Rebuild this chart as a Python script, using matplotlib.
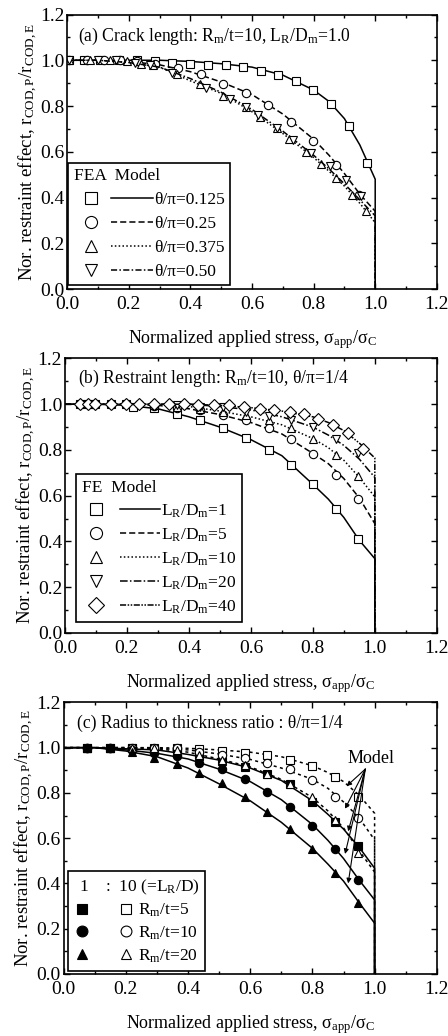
import numpy as np
import matplotlib
matplotlib.use("Agg")
import matplotlib.pyplot as plt
from matplotlib.lines import Line2D
from matplotlib.legend_handler import HandlerBase
from matplotlib.ticker import MultipleLocator, FormatStrFormatter

plt.rcParams["font.family"] = ["Liberation Serif", "DejaVu Serif"]
plt.rcParams["mathtext.fontset"] = "custom"
plt.rcParams["mathtext.rm"] = "Liberation Serif"
plt.rcParams["mathtext.it"] = "Liberation Serif:italic"
plt.rcParams["font.size"] = 12

# ---------------- (a) crack length ----------------
a_labels = ["θ/π=0.125", "θ/π=0.25", "θ/π=0.375", "θ/π=0.50"]
a_model_x = [0, 0.1, 0.2, 0.3, 0.4, 0.5, 0.6, 0.7, 0.8, 0.85, 0.9, 0.95, 1.0, 1.0]
a_model_125 = [1.0, 1.0, 1.0, 1.0, 0.995, 0.985, 0.97, 0.935, 0.87, 0.82, 0.745, 0.63, 0.48, 0.0]
a_model_25 = [1.0, 1.0, 0.995, 0.98, 0.95, 0.905, 0.85, 0.765, 0.655, 0.585, 0.505, 0.415, 0.34, 0.0]
a_model_375 = [1.0, 1.0, 0.99, 0.97, 0.91, 0.855, 0.775, 0.68, 0.575, 0.515, 0.45, 0.375, 0.29, 0.0]
a_model_50 = [1.0, 1.0, 0.99, 0.97, 0.92, 0.86, 0.785, 0.69, 0.585, 0.525, 0.46, 0.39, 0.32, 0.0]

a_fea_125_x = [0.005, 0.054, 0.108, 0.167, 0.226, 0.286, 0.34, 0.40, 0.458, 0.517, 0.571, 0.63,
               0.684, 0.744, 0.797, 0.857, 0.914, 0.973]
a_fea_125_y = [1.0, 1.0, 1.0, 1.0, 1.0, 0.995, 0.99, 0.985, 0.98, 0.978, 0.971, 0.953,
               0.935, 0.91, 0.872, 0.807, 0.712, 0.552]
a_fea_25_x = [0.005, 0.065, 0.12, 0.17, 0.226, 0.286, 0.361, 0.436, 0.506, 0.58, 0.652, 0.725,
              0.797, 0.873, 0.948]
a_fea_25_y = [1.0, 1.0, 1.0, 1.0, 0.995, 0.985, 0.967, 0.939, 0.898, 0.858, 0.804, 0.731,
              0.648, 0.542, 0.411]
a_fea_375_x = [0.005, 0.075, 0.14, 0.195, 0.24, 0.28, 0.356, 0.43, 0.506, 0.58, 0.625, 0.68,
               0.72, 0.776, 0.824, 0.873, 0.925, 0.97]
a_fea_375_y = [1.0, 1.0, 1.0, 0.995, 0.985, 0.978, 0.939, 0.898, 0.843, 0.794, 0.753, 0.702,
               0.654, 0.6, 0.545, 0.484, 0.411, 0.343]
a_fea_50_x = [0.005, 0.1, 0.16, 0.22, 0.27, 0.34, 0.45, 0.53, 0.58, 0.62, 0.68, 0.733,
              0.79, 0.853, 0.905, 0.955]
a_fea_50_y = [1.0, 1.0, 1.0, 0.99, 0.98, 0.945, 0.88, 0.83, 0.794, 0.76, 0.705, 0.651,
              0.596, 0.538, 0.477, 0.405]

# ---------------- (b) restraint length ----------------
b_labels = [r"L$_\mathrm{R}$/D$_\mathrm{m}$=1", r"L$_\mathrm{R}$/D$_\mathrm{m}$=5",
            r"L$_\mathrm{R}$/D$_\mathrm{m}$=10", r"L$_\mathrm{R}$/D$_\mathrm{m}$=20",
            r"L$_\mathrm{R}$/D$_\mathrm{m}$=40"]
b_model_x = [0, 0.1, 0.2, 0.3, 0.4, 0.5, 0.6, 0.7, 0.8, 0.85, 0.9, 0.95, 1.0, 1.0]
b_model_1 = [1.0, 1.0, 0.995, 0.98, 0.945, 0.9, 0.845, 0.775, 0.65, 0.585, 0.505, 0.405, 0.325, 0.0]
b_model_5 = [1.0, 1.0, 1.0, 0.995, 0.98, 0.955, 0.92, 0.87, 0.785, 0.74, 0.675, 0.59, 0.478, 0.0]
b_model_10 = [1.0, 1.0, 1.0, 1.0, 0.99, 0.97, 0.945, 0.91, 0.85, 0.81, 0.755, 0.68, 0.595, 0.0]
b_model_20 = [1.0, 1.0, 1.0, 1.0, 1.0, 0.99, 0.975, 0.945, 0.9, 0.865, 0.82, 0.76, 0.68, 0.0]
b_model_40 = [1.0, 1.0, 1.0, 1.0, 1.0, 0.995, 0.985, 0.97, 0.945, 0.92, 0.885, 0.83, 0.765, 0.0]

b_fe_1_x = [0.048, 0.073, 0.098, 0.148, 0.196, 0.218, 0.287, 0.362, 0.437, 0.51, 0.585, 0.657,
            0.73, 0.80, 0.875, 0.946]
b_fe_1_y = [1.0, 1.0, 1.0, 1.0, 1.0, 0.99, 0.984, 0.959, 0.93, 0.894, 0.854, 0.80,
            0.733, 0.65, 0.544, 0.413]
b_fe_5_x = [0.048, 0.073, 0.098, 0.148, 0.196, 0.24, 0.287, 0.362, 0.437, 0.51, 0.585, 0.657,
            0.73, 0.80, 0.875, 0.946]
b_fe_5_y = [1.0, 1.0, 1.0, 1.0, 1.0, 1.0, 0.991, 0.985, 0.974, 0.952, 0.93, 0.894,
            0.85, 0.784, 0.69, 0.587]
b_fe_10_x = [0.287, 0.362, 0.437, 0.51, 0.585, 0.657, 0.73, 0.80, 0.875, 0.946]
b_fe_10_y = [0.995, 0.99, 0.98, 0.966, 0.952, 0.933, 0.898, 0.848, 0.776, 0.687]
b_fe_20_x = [0.362, 0.437, 0.51, 0.585, 0.657, 0.73, 0.80, 0.875, 0.946]
b_fe_20_y = [0.995, 0.99, 0.99, 0.966, 0.95, 0.93, 0.90, 0.85, 0.787]
b_fe_40_x = [0.048, 0.073, 0.098, 0.148, 0.196, 0.24, 0.287, 0.335, 0.383, 0.43, 0.48, 0.53,
             0.578, 0.628, 0.673, 0.725, 0.77, 0.818, 0.866, 0.914, 0.962]
b_fe_40_y = [1.0, 1.0, 1.0, 1.0, 1.0, 1.0, 1.0, 1.0, 1.0, 0.998, 0.995, 0.995,
             0.99, 0.98, 0.974, 0.966, 0.956, 0.937, 0.911, 0.872, 0.803]

# ---------------- (c) radius to thickness ----------------
c_labels = [r"R$_\mathrm{m}$/t=5", r"R$_\mathrm{m}$/t=10", r"R$_\mathrm{m}$/t=20"]
c_model_x = [0, 0.1, 0.2, 0.3, 0.4, 0.5, 0.6, 0.7, 0.8, 0.85, 0.9, 0.95, 1.0, 1.0]
c_l1_5 = [1.0, 1.0, 0.995, 0.99, 0.97, 0.945, 0.91, 0.855, 0.765, 0.705, 0.64, 0.56, 0.467, 0.0]
c_l1_10 = [1.0, 1.0, 0.99, 0.975, 0.95, 0.905, 0.85, 0.77, 0.66, 0.59, 0.51, 0.415, 0.327, 0.0]
c_l1_20 = [1.0, 1.0, 0.985, 0.96, 0.91, 0.84, 0.765, 0.67, 0.555, 0.485, 0.41, 0.315, 0.224, 0.0]
c_l10_5 = [1.0, 1.0, 1.0, 1.0, 0.997, 0.99, 0.98, 0.96, 0.92, 0.89, 0.85, 0.79, 0.71, 0.0]
c_l10_10 = [1.0, 1.0, 1.0, 0.997, 0.99, 0.972, 0.948, 0.91, 0.86, 0.82, 0.76, 0.69, 0.592, 0.0]
c_l10_20 = [1.0, 1.0, 1.0, 0.995, 0.98, 0.95, 0.915, 0.86, 0.78, 0.72, 0.645, 0.545, 0.45, 0.0]

c_fe_x = [0.075, 0.148, 0.22, 0.29, 0.365, 0.434, 0.51, 0.584, 0.653, 0.728, 0.80, 0.872, 0.947]
c_fe_l1_5 = [1.0, 1.0, 0.997, 0.99, 0.975, 0.963, 0.943, 0.916, 0.884, 0.838, 0.761, 0.673, 0.563]
c_fe_l1_10 = [1.0, 1.0, 0.99, 0.975, 0.963, 0.93, 0.904, 0.862, 0.806, 0.739, 0.655, 0.552, 0.415]
c_fe_l1_20 = [1.0, 1.0, 0.982, 0.953, 0.926, 0.887, 0.842, 0.78, 0.717, 0.639, 0.552, 0.448, 0.312]
c_fe_l10_5 = [1.0, 1.0, 1.0, 1.0, 0.997, 0.994, 0.987, 0.978, 0.966, 0.946, 0.917, 0.872, 0.783]
c_fe_l10_10 = [1.0, 1.0, 1.0, 1.0, 0.997, 0.982, 0.967, 0.953, 0.93, 0.904, 0.857, 0.78, 0.688]
c_fe_l10_20 = [1.0, 1.0, 1.0, 0.997, 0.99, 0.967, 0.945, 0.923, 0.884, 0.84, 0.78, 0.68, 0.536]

# "Model" arrow tips in panel (c)
arrow_tips = [(0.91, 0.83), (0.905, 0.73), (0.915, 0.63), (0.905, 0.53), (0.915, 0.40)]


class MarkLine(HandlerBase):
    """legend key: marker at left, line segment to the right"""
    def __init__(self, fm, fl):
        super().__init__()
        self.fm = fm
        self.fl = fl

    def create_artists(self, legend, orig_handle, xdescent, ydescent, width, height,
                       fontsize, trans):
        mk, ln = orig_handle
        y = height / 2 - ydescent
        x0 = -xdescent
        a = Line2D([x0 + self.fm * width], [y])
        a.update_from(mk)
        a.set_linestyle("none")
        a.set_markersize(mk.get_markersize() * 1.45)
        b = Line2D([x0 + self.fl * width, x0 + width], [y, y])
        b.update_from(ln)
        b.set_marker("")
        a.set_transform(trans)
        b.set_transform(trans)
        return [a, b]


class TwoMarks(HandlerBase):
    """legend key: filled marker, then open marker"""
    def create_artists(self, legend, orig_handle, xdescent, ydescent, width, height,
                       fontsize, trans):
        m1, m2 = orig_handle
        y = height / 2 - ydescent
        x0 = -xdescent
        out = []
        for m, fx in [(m1, 0.12), (m2, 0.88)]:
            a = Line2D([x0 + fx * width], [y])
            a.update_from(m)
            a.set_linestyle("none")
            a.set_markersize(m.get_markersize() * 1.3)
            a.set_transform(trans)
            out.append(a)
        return out


def style_axes(ax):
    ax.set_xlim(0, 1.2)
    ax.set_ylim(0, 1.2)
    ax.xaxis.set_major_locator(MultipleLocator(0.2))
    ax.yaxis.set_major_locator(MultipleLocator(0.2))
    ax.xaxis.set_minor_locator(MultipleLocator(0.1))
    ax.yaxis.set_minor_locator(MultipleLocator(0.1))
    ax.xaxis.set_major_formatter(FormatStrFormatter("%.1f"))
    ax.yaxis.set_major_formatter(FormatStrFormatter("%.1f"))
    ax.tick_params(which="both", direction="in", top=True, right=True, labelsize=14, width=1)
    ax.tick_params(which="major", length=4.5)
    ax.tick_params(which="minor", length=2.5)
    ax.tick_params(axis="x", which="major", pad=5)
    ax.tick_params(axis="y", which="major", pad=2)
    for s in ax.spines.values():
        s.set_linewidth(1.2)
    ax.set_xlabel(r"Normalized applied stress, σ$_\mathrm{app}$/σ$_\mathrm{C}$", fontsize=13,
                  labelpad=11)
    ax.set_ylabel(r"Nor. restraint effect, r$_\mathrm{COD,P}$/r$_\mathrm{COD,E}$", fontsize=13.5,
                  labelpad=0)


fig = plt.figure(figsize=(4.48, 10.36), dpi=100)
ax_a = fig.add_axes([0.150, 0.721, 0.825, 0.265])
ax_b = fig.add_axes([0.145, 0.389, 0.830, 0.265])
ax_c = fig.add_axes([0.142, 0.060, 0.833, 0.262])

ms = 6
mew = 0.8
lw = 1.1
open_kw = dict(ls="none", mfc="white", mec="black", ms=ms, mew=mew)
leg_kw = dict(loc="lower left", borderaxespad=0.0, fontsize=12.5, title_fontsize=12.5,
              alignment="left", fancybox=False, framealpha=1, edgecolor="black")

# ---- panel (a)
ax = ax_a
style_axes(ax)
styles_a = ["-", (0, (4, 2)), (0, (1, 1.5)), (0, (4, 1.5, 1, 1.5))]
marks_a = ["s", "o", "^", "v"]
fea_a = [(a_fea_125_x, a_fea_125_y), (a_fea_25_x, a_fea_25_y),
         (a_fea_375_x, a_fea_375_y), (a_fea_50_x, a_fea_50_y)]
models_a = [a_model_125, a_model_25, a_model_375, a_model_50]
handles = []
for (fx, fy), my, st, mk in zip(fea_a, models_a, styles_a, marks_a):
    ln, = ax.plot(a_model_x, my, color="black", lw=lw, ls=st)
    pt, = ax.plot(fx, fy, marker=mk, **open_kw)
    handles.append((pt, ln))
leg = ax.legend(handles, a_labels, handler_map={tuple: MarkLine(0.22, 0.47)},
                bbox_to_anchor=(0.003, 0.015), title="FEA  Model",
                handlelength=4.6, handletextpad=0.05, labelspacing=0.45, borderpad=0.3,
                **leg_kw)
leg.get_frame().set_linewidth(1.2)
ax.text(0.03, 0.92, r"(a) Crack length: R$_\mathrm{m}$/t=10, L$_\mathrm{R}$/D$_\mathrm{m}$=1.0",
        transform=ax.transAxes, fontsize=12.7, va="center")

# ---- panel (b)
ax = ax_b
style_axes(ax)
styles_b = ["-", (0, (4, 2)), (0, (1, 1.5)), (0, (5, 1.5, 1, 1.5)), (0, (4, 1, 1, 1, 1, 1))]
marks_b = ["s", "o", "^", "v", "D"]
fe_b = [(b_fe_1_x, b_fe_1_y), (b_fe_5_x, b_fe_5_y), (b_fe_10_x, b_fe_10_y),
        (b_fe_20_x, b_fe_20_y), (b_fe_40_x, b_fe_40_y)]
models_b = [b_model_1, b_model_5, b_model_10, b_model_20, b_model_40]
handles = []
for (fx, fy), my, st, mk in zip(fe_b, models_b, styles_b, marks_b):
    ln, = ax.plot(b_model_x, my, color="black", lw=lw, ls=st)
    kw = dict(open_kw)
    if mk == "D":
        kw["ms"] = ms * 0.95
    pt, = ax.plot(fx, fy, marker=mk, **kw)
    handles.append((pt, ln))
leg = ax.legend(handles, b_labels, handler_map={tuple: MarkLine(0.18, 0.49)},
                bbox_to_anchor=(0.03, 0.04), title="FE  Model",
                handlelength=4.5, handletextpad=0.05, labelspacing=0.38, borderpad=0.35,
                **leg_kw)
leg.get_frame().set_linewidth(1.2)
ax.text(0.035, 0.927, r"(b) Restraint length: R$_\mathrm{m}$/t=10, θ/π=1/4",
        transform=ax.transAxes, fontsize=12.7, va="center")

# ---- panel (c)
ax = ax_c
style_axes(ax)
marks_c = ["s", "o", "^"]
l1 = [c_fe_l1_5, c_fe_l1_10, c_fe_l1_20]
l10 = [c_fe_l10_5, c_fe_l10_10, c_fe_l10_20]
m1 = [c_l1_5, c_l1_10, c_l1_20]
m10 = [c_l10_5, c_l10_10, c_l10_20]
handles = []
for k in range(3):
    ax.plot(c_model_x, m10[k], color="black", lw=lw, ls=(0, (2, 2.2)))
    ax.plot(c_model_x, m1[k], color="black", lw=lw, ls="-")
    p_o, = ax.plot(c_fe_x, l10[k], marker=marks_c[k], **open_kw)
    p_f, = ax.plot(c_fe_x, l1[k], marker=marks_c[k], ls="none", mfc="black", mec="black",
                   ms=ms, mew=mew)
    handles.append((p_f, p_o))
leg = ax.legend(handles, c_labels, handler_map={tuple: TwoMarks()},
                bbox_to_anchor=(0.013, 0.012), title=r" 1    :  10 (=L$_\mathrm{R}$/D)",
                handlelength=3.4, handletextpad=0.25, labelspacing=0.3, borderpad=0.35,
                **leg_kw)
leg.get_frame().set_linewidth(1.2)
ax.text(0.037, 0.923, r"(c) Radius to thickness ratio : θ/π=1/4",
        transform=ax.transAxes, fontsize=12.7, va="center")
for tx, ty in arrow_tips:
    ax.annotate("", xy=(tx, ty), xytext=(0.97, 0.905),
                arrowprops=dict(arrowstyle="-|>", color="black", lw=0.8,
                                mutation_scale=7, shrinkA=0, shrinkB=0))
ax.text(0.99, 0.953, "Model", fontsize=13, ha="center", va="center")

fig.savefig("out.png", dpi=100)
